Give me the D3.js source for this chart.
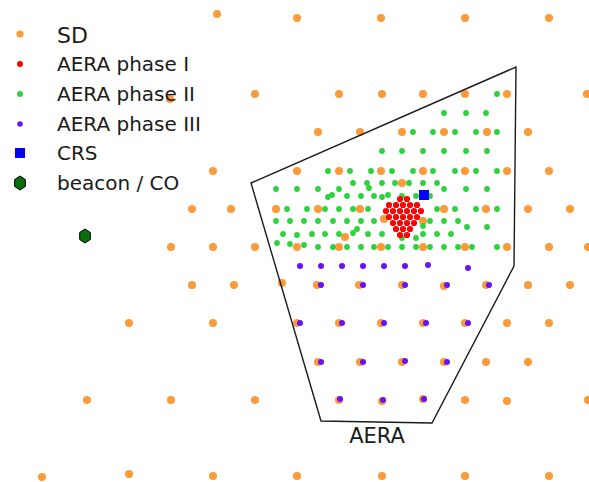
<!DOCTYPE html>
<html>
<head>
<meta charset="utf-8">
<script src="https://cdn.jsdelivr.net/npm/d3@7"></script>
<style>
  body { margin: 0; background: #fff; }
  svg { display: block; }
  text { font-family: "DejaVu Sans", sans-serif; fill: #1a1a1a; }
</style>
</head>
<body>
<div id="map"></div>
<script>
// map positions (x east, y south, figure units)
const sdStations = [
  [217,14],[297,18],[381,18],[465,18],[549,18],
  [170,99],[255,94],[339,94],[382,94],[423,94],[465,94],[507,94],[587,94],
  [318,132],[360,132],[402,132],[444,132],[487,132],[528,132],
  [213,171],[297,171],[339,171],[381,171],[423,171],[465,171],[507,171],[549,171],
  [402,183],
  [192,209],[231,209],[276,209],[318,209],[360,209],[444,209],[486,209],[528,209],[570,209],
  [384,219],[423,221],[345,237],
  [171,247],[213,247],[255,247],[297,247],[339,247],[381,247],[423,247],[465,247],[507,247],[549,247],[588,247],
  [192,285],[234,285],[282,283],[317,285],[359,285],[402,285],[444,286],[486,285],[528,285],[570,285],
  [129,323],[213,323],[297,323],[339,323],[381,323],[423,323],[465,323],[507,323],[549,323],
  [318,362],[360,362],[402,362],[444,362],[486,362],[528,362],
  [87,400],[171,400],[255,400],[339,400],[382,401],[423,399],[465,400],[507,401],[588,400],
  [42,477],[129,474],[213,476],[297,476],[382,476],[465,476],[549,476]
];

const aeraPhase1 = [
  [400,199],[407,199],
  [389,205],[396,205],[403,205],[410,205],[417,205],
  [386,211],[393,211],[400,211],[407,211],[414,211],[421,211],
  [389,217],[396,217],[403,217],[410,217],[417,217],
  [393,223],[400,223],[407,223],[414,223],
  [396,229],[403,229],[410,229],
  [400,235],[407,235]
];

const aeraPhase2 = [
  [497,94],
  [444,113],[466,113],[486,113],
  [413,132],[433,132],[455,132],[476,132],[497,132],
  [382,151],[402,151],[423,151],[444,151],[466,151],[487,151],
  [328,171],[350,171],[371,171],[392,171],[413,171],[433,171],[455,171],[476,171],[497,171],
  [353,183],[367,183],[382,183],[395,183],[409,183],[423,183],[437,183],
  [276,189],[297,189],[318,189],[339,189],[369,188],[444,189],[466,189],[487,189],
  [328,197],[332,195],[347,196],[361,196],[374,196],[382,197],[388,195],[402,196],[416,196],[430,196],
  [287,209],[307,209],[325,209],[339,209],[353,209],[368,209],[437,209],[455,209],[476,209],[497,209],
  [276,221],[290,221],[304,221],[318,221],[333,221],[347,221],[361,221],[374,221],[430,221],[444,221],[458,221],
  [423,226],[467,227],[487,227],
  [357,229],[353,233],
  [283,234],[297,235],[312,234],[325,234],[339,234],[368,234],[382,234],[423,234],[437,234],[451,234],
  [402,238],[416,238],
  [277,243],[290,244],[304,245],
  [318,247],[333,247],[347,247],[361,247],[374,247],[388,247],[402,247],[416,247],[430,247],[444,247],[458,247],[472,247],[497,247]
];

const aeraPhase3 = [
  [300,266],[321,266],[342,266],[363,266],[384,266],[405,266],[428,265],[468,268],
  [321,285],[363,285],[405,285],[447,285],[489,285],
  [300,323],[342,323],[384,323],[426,323],[468,323],
  [321,362],[363,362],[405,361],[447,362],
  [340,399],[383,400],[424,399]
];

const crsPos = [424,195];
const beaconPos = [85,236];

const aeraOutline = [[251,183],[516,67],[514,266],[432,423],[321,421]];
const aeraLabel = 'AERA';
const aeraLabelPos = [377,443];

const legendLabels = ['SD', 'AERA phase I', 'AERA phase II', 'AERA phase III', 'CRS', 'beacon / CO'];

// drawing area
const width = 589, height = 482;
const svg = d3.select('#map').append('svg')
  .attr('width', width)
  .attr('height', height);

const xScale = d3.scaleLinear().domain([0, 589]).range([0, width]);
const yScale = d3.scaleLinear().domain([0, 482]).range([0, height]);

const colors = {
  sd: '#fd9a3a',
  p1: '#ff0000',
  p2: '#2ed23f',
  p3: '#6a12f5',
  crs: '#0000ff',
  beacon: '#0a6e0a'
};

function hexPath(r) {
  let pts = d3.range(6).map((i) => {
    let a = Math.PI / 3 * i - Math.PI / 2;
    return [r * 0.88 * Math.cos(a), r * Math.sin(a)];
  });
  return 'M' + pts.join('L') + 'Z';
}

function drawDots(data, r, color) {
  svg.append('g')
    .selectAll('circle')
    .data(data)
    .enter().append('circle')
      .attr('cx', (d) => xScale(d[0]))
      .attr('cy', (d) => yScale(d[1]))
      .attr('r', r)
      .attr('fill', color);
}

drawDots(sdStations, 4, colors.sd);
drawDots(aeraPhase2, 2.9, colors.p2);
drawDots(aeraPhase1, 3.1, colors.p1);
drawDots(aeraPhase3, 3, colors.p3);

// CRS
svg.append('rect')
  .attr('x', xScale(crsPos[0]) - 5)
  .attr('y', yScale(crsPos[1]) - 5)
  .attr('width', 10)
  .attr('height', 10)
  .attr('fill', colors.crs);

// beacon
svg.append('path')
  .attr('d', hexPath(7))
  .attr('transform', 'translate(' + xScale(beaconPos[0]) + ',' + yScale(beaconPos[1]) + ')')
  .attr('fill', colors.beacon)
  .attr('stroke', '#000')
  .attr('stroke-width', 1);

// AERA outline
let line = d3.line()
  .x((d) => xScale(d[0]))
  .y((d) => yScale(d[1]))
  .curve(d3.curveLinearClosed);

svg.append('path')
  .attr('d', line(aeraOutline))
  .attr('fill', 'none')
  .attr('stroke', '#1a1a1a')
  .attr('stroke-width', 1.4);

svg.append('text')
  .attr('x', xScale(aeraLabelPos[0]))
  .attr('y', yScale(aeraLabelPos[1]))
  .attr('text-anchor', 'middle')
  .attr('font-size', 21)
  .text(aeraLabel);

// legend
let legendY = [34, 64, 94, 124, 153, 183];
let legend = svg.append('g');

legend.selectAll('text')
  .data(legendLabels)
  .enter().append('text')
    .attr('x', 57)
    .attr('y', (d, i) => legendY[i] + (i === 0 ? 9 : 7))
    .attr('font-size', (d, i) => i === 0 ? 22 : 20)
    .text((d) => d);

let dotMarks = [[3.6, colors.sd], [3, colors.p1], [3, colors.p2], [2.8, colors.p3]];
dotMarks.forEach((m, i) => {
  legend.append('circle')
    .attr('cx', 20)
    .attr('cy', legendY[i])
    .attr('r', m[0])
    .attr('fill', m[1]);
});

legend.append('rect')
  .attr('x', 15)
  .attr('y', legendY[4] - 5)
  .attr('width', 10)
  .attr('height', 10)
  .attr('fill', colors.crs);

legend.append('path')
  .attr('d', hexPath(7))
  .attr('transform', 'translate(20,' + legendY[5] + ')')
  .attr('fill', colors.beacon)
  .attr('stroke', '#000')
  .attr('stroke-width', 1);
</script>
</body>
</html>
